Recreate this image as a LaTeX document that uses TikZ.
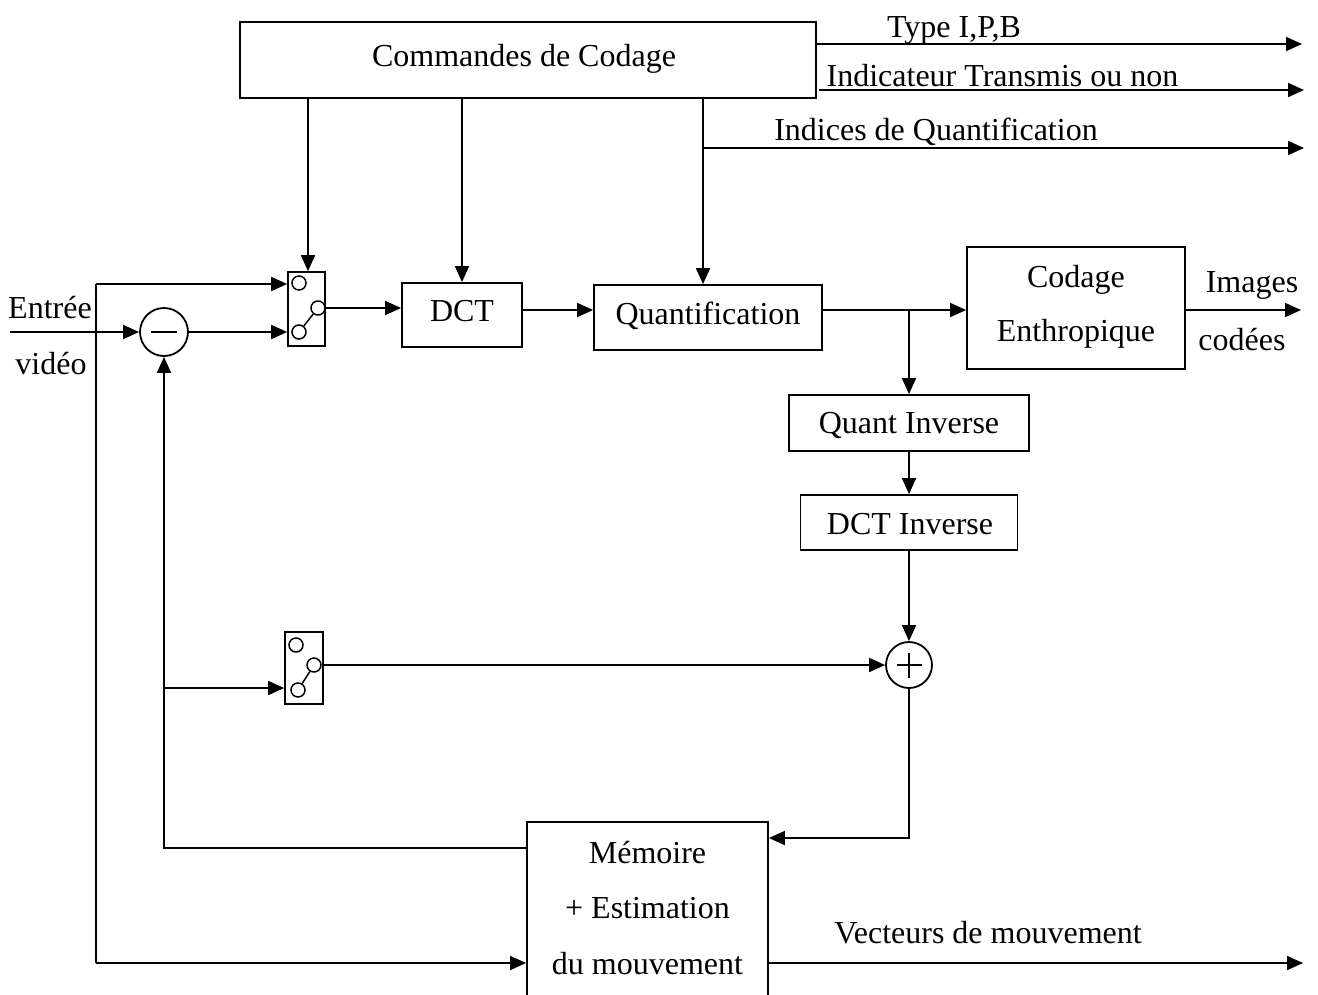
\documentclass[tikz,border=0pt]{standalone}
\usepackage{fontspec}
\setmainfont{Liberation Serif}
\usetikzlibrary{arrows.meta}

\begin{document}
\begin{tikzpicture}[x=1pt,y=-1pt,line width=1.8pt,
  >={Triangle[length=16pt,width=14pt]},
  txt/.style={inner sep=0pt,font=\fontsize{32}{38}\selectfont},
  blk/.style={draw,inner sep=0pt,font=\fontsize{32}{38}\selectfont},
  sumnode/.style={draw,circle,minimum size=48pt,inner sep=0pt},
  switchbox/.style={draw,inner sep=0pt,line width=1.7pt},
  pin/.style={draw,circle,minimum size=14pt,inner sep=0pt,line width=1.5pt}]
\useasboundingbox (0,0) rectangle (1318,994);

% blocks
\node[blk,minimum width=576pt,minimum height=76pt] (cmd) at (528,60) {};
\node[txt] (cmdtxt) at (524,59) {Commandes de Codage};
\node[blk,minimum width=120pt,minimum height=64pt] (dct) at (462,315) {};
\node[txt] (dcttxt) at (462,311) {DCT};
\node[blk,minimum width=228pt,minimum height=65pt] (q) at (708,317.5) {};
\node[txt] (qtxt) at (708,316) {Quantification};
\node[blk,minimum width=218pt,minimum height=122pt] (cod) at (1076,308) {};
\node[txt,align=center,font=\fontsize{32}{54}\selectfont] (codtxt) at (1076,307) {Codage\\Enthropique};
\node[blk,minimum width=240pt,minimum height=56pt] (qi) at (909,423) {};
\node[txt] (qitxt) at (909,425) {Quant Inverse};
\node[blk,minimum width=217pt,minimum height=55pt] (dcti) at (909,522.5) {};
\node[txt] (dctitxt) at (910,524) {DCT Inverse};
\node[blk,minimum width=241pt,minimum height=190pt] (mem) at (647.5,917) {};
\node[txt,align=center,font=\fontsize{32}{55.5}\selectfont] (memtxt) at (647.5,908) {Mémoire\\+ Estimation\\du mouvement};

% summing points
\node[sumnode] (minus) at (164,332) {};
\draw ([xshift=-13pt]minus.center) -- ([xshift=13pt]minus.center);
\node[sumnode,minimum size=46pt] (plus) at (909,665) {};
\draw ([xshift=-12.5pt]plus.center) -- ([xshift=12.5pt]plus.center);
\draw ([yshift=-12.5pt]plus.center) -- ([yshift=12.5pt]plus.center);

% switches
\node[switchbox,minimum width=37pt,minimum height=74pt] (sw1) at (306.5,309) {};
\node[pin] (p1t) at (299,283) {};
\node[pin] (p1b) at (299,332) {};
\node[pin] (p1r) at (318,308) {};
\draw[line width=1.5pt] (p1b) -- (p1r);
\node[switchbox,minimum width=38pt,minimum height=72pt] (sw2) at (304,668) {};
\node[pin] (p2t) at (296,645) {};
\node[pin] (p2b) at (298,690) {};
\node[pin] (p2r) at (314,665) {};
\draw[line width=1.5pt] (p2b) -- (p2r);

% junctions and free ends
\coordinate (qtap) at (703,148);
\coordinate (qtapB) at (909,310);
\coordinate (tapA) at (96,284);
\coordinate (tapB) at (96,963);
\coordinate (tapC) at (164,688);
\coordinate (fbk) at (164,848);
\coordinate (corner) at (909,838);
\coordinate (in) at (10,332);
\coordinate (o1) at (1302,44);
\coordinate (o2) at (1304,90);
\coordinate (o3) at (1304,148);
\coordinate (o4) at (1301,310);
\coordinate (o5) at (1303,963);

% commands
\draw[->] (cmd.south -| 308,0) -- (sw1.north -| 308,0);
\draw[->] (cmd.south -| dct.north) -- (dct.north);
\draw[->] (cmd.south -| qtap) -- (qtap) -- (q.north -| qtap);
\draw[->] (qtap) -- (o3);
\draw[->] (cmd.east |- o1) -- (o1);
\draw[->] ([xshift=2pt]cmd.east |- o2) -- (o2);

% forward path
\draw[->] (in) -- (minus);
\draw[->] (minus) -- (sw1.west |- p1b);
\draw[->] (tapA) -- (sw1.west |- tapA);
\draw (tapA) -- (tapB);
\draw[->] (tapB) -- (mem.west |- tapB);
\draw[->] (p1r) -- (dct.west |- p1r);
\draw[->] (dct.east |- qtapB) -- (q.west |- qtapB);
\draw[->] (q.east |- qtapB) -- (cod.west |- qtapB);
\draw[->] (cod.east |- o4) -- (o4);

% reconstruction loop
\draw[->] (qtapB) -- (qi.north);
\draw[->] (qi.south) -- (dcti.north);
\draw[->] (dcti.south) -- (plus.north);
\draw[->] (plus.south) -- (corner) -- (mem.east |- corner);
\draw[->] (mem.west |- fbk) -- (fbk) -- (minus.south);
\draw[->] (tapC) -- (sw2.west |- tapC);
\draw[->] (p2r) -- (plus.west |- p2r);
\draw[->] (mem.east |- o5) -- (o5);

% labels
\node[txt] (l1) at (954,30) {Type I,P,B};
\node[txt] (l2) at (1002.5,76) {Indicateur Transmis ou non};
\node[txt] (l3) at (936,132) {Indices de Quantification};
\node[txt] (l4) at (1252,285) {Images};
\node[txt] (l5) at (1242,340) {codées};
\node[txt] (l6) at (50,308) {Entrée};
\node[txt] (l7) at (51,364) {vidéo};
\node[txt] (l8) at (988,933) {Vecteurs de mouvement};
\end{tikzpicture}
\end{document}
